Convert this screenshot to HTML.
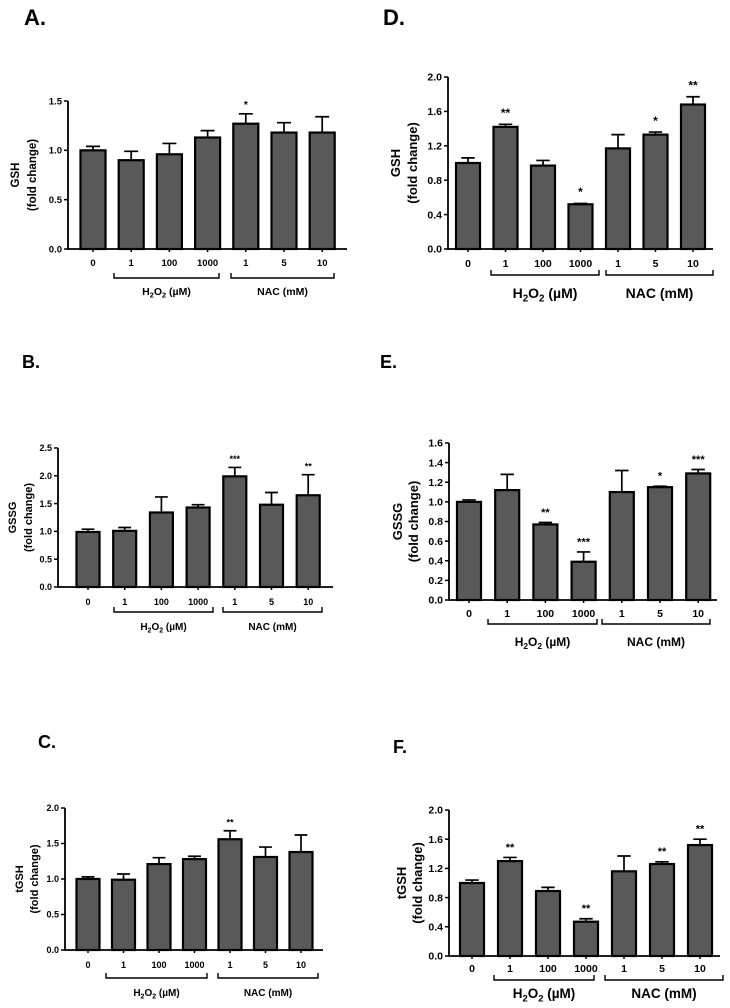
<!DOCTYPE html>
<html><head><meta charset="utf-8"><style>
body{margin:0;background:#fff}
svg{display:block}
text{font-family:"Liberation Sans",sans-serif;font-weight:bold;fill:#000}
</style></head><body>
<svg id="fig" width="730" height="1008" viewBox="0 0 730 1008" xmlns="http://www.w3.org/2000/svg"></svg>
<script>
const categories = ["0","1","100","1000","1","5","10"];
const gshA = [1.0,0.90,0.96,1.13,1.27,1.18,1.18];
const gshAErr = [0.04,0.09,0.11,0.07,0.10,0.10,0.16];
const gshAStars = ["","","","","*","",""];
const gsshB = [0.99,1.01,1.34,1.43,1.99,1.48,1.65];
const gsshBErr = [0.05,0.06,0.28,0.05,0.16,0.22,0.37];
const gsshBStars = ["","","","","***","","**"];
const tgshC = [1.0,0.99,1.21,1.28,1.56,1.31,1.38];
const tgshCErr = [0.03,0.08,0.09,0.04,0.12,0.14,0.24];
const tgshCStars = ["","","","","**","",""];
const gshD = [1.0,1.42,0.97,0.52,1.17,1.33,1.68];
const gshDErr = [0.06,0.03,0.06,0.01,0.16,0.03,0.09];
const gshDStars = ["","**","","*","","*","**"];
const gsshE = [1.0,1.12,0.77,0.39,1.10,1.15,1.29];
const gsshEErr = [0.02,0.16,0.02,0.10,0.22,0.01,0.04];
const gsshEStars = ["","","**","***","","*","***"];
const tgshF = [1.0,1.30,0.89,0.47,1.16,1.26,1.52];
const tgshFErr = [0.04,0.05,0.05,0.04,0.21,0.03,0.08];
const tgshFStars = ["","**","","**","","**","**"];
const ticksA = ["0.0","0.5","1.0","1.5"];
const ticksB = ["0.0","0.5","1.0","1.5","2.0","2.5"];
const ticksC = ["0.0","0.5","1.0","1.5","2.0"];
const ticksD = ["0.0","0.4","0.8","1.2","1.6","2.0"];
const ticksE = ["0.0","0.2","0.4","0.6","0.8","1.0","1.2","1.4","1.6"];
const ticksF = ["0.0","0.4","0.8","1.2","1.6","2.0"];

const NS="http://www.w3.org/2000/svg";
const svg=document.getElementById('fig');
function mk(tag,attrs,parent){const e=document.createElementNS(NS,tag);for(const k in attrs)e.setAttribute(k,attrs[k]);(parent||svg).appendChild(e);return e;}

function panel(p){
  const g=mk('g',{});
  
  
  const lab=mk('text',{x:p.lx,y:p.ly,'font-size':p.lfs},g);lab.textContent=p.id+'.';
  
  
  const ymax=parseFloat(p.ticks[p.ticks.length-1]);
  const y=v=>p.y0-(v/ymax)*(p.y0-p.yTop);
  const x=i=>p.c0+i*p.step;
  p.vals.forEach((v,i)=>{
    const r=mk('rect',{x:x(i)-p.bw/2,y:y(v),width:p.bw,height:p.y0-y(v),fill:'#595959',stroke:'#000','stroke-width':2.2},g);
    
    
    const e=p.err[i];
    const el=mk('path',{d:`M${x(i)} ${y(v)} V${y(v+e)} M${x(i)-p.bw*0.28} ${y(v+e)} H${x(i)+p.bw*0.28}`,stroke:'#000','stroke-width':1.7,fill:'none'},g);
    
    
    if(p.stars[i]){
      const s=mk('text',{x:x(i),y:y(v+e)-p.sfs*0.6,'font-size':p.sfs,'text-anchor':'middle'},g);s.textContent=p.stars[i];
      
      
    }
  });
  const ax=mk('path',{d:`M${p.ax} ${p.yTop} V${p.y0} H${p.axEnd}`,stroke:'#000','stroke-width':1.8,fill:'none'},g);
  
  
  p.ticks.forEach(t=>{
    const yy=y(parseFloat(t));
    mk('line',{x1:p.ax-4,x2:p.ax,y1:yy,y2:yy,stroke:'#000','stroke-width':1.5},g);
    const tt=mk('text',{x:p.ax-6,y:yy+p.tfs*0.35,'font-size':p.tfs,'text-anchor':'end'},g);tt.textContent=t;
    
    
  });
  categories.forEach((c,i)=>{
    mk('line',{x1:x(i),x2:x(i),y1:p.y0,y2:p.y0+3,stroke:'#000','stroke-width':1.5},g);
    const t=mk('text',{x:x(i),y:p.tky,'font-size':p.tfs,'text-anchor':'middle'},g);t.textContent=c;
    
    
  });
  [[p.b1a,p.b1b],[p.b2a,p.b2b]].forEach(([a,b],k)=>{
    const br=mk('path',{d:`M${a} ${p.by-5} V${p.by} H${b} V${p.by-5}`,stroke:'#000','stroke-width':1.4,fill:'none'},g);
    
    
  });
  const h=mk('text',{x:(p.b1a+p.b1b)/2,y:p.gy,'font-size':p.gfs,'text-anchor':'middle'},g);
  h.innerHTML=`H<tspan font-size="${p.gfs*0.7}" dy="${p.gfs*0.25}">2</tspan><tspan dy="${-p.gfs*0.25}">O</tspan><tspan font-size="${p.gfs*0.7}" dy="${p.gfs*0.25}">2</tspan><tspan dy="${-p.gfs*0.25}"> (µM)</tspan>`;
  
  
  const n=mk('text',{x:(p.b2a+p.b2b)/2,y:p.gy,'font-size':p.gfs,'text-anchor':'middle'},g);n.textContent='NAC (mM)';
  
  
  const cy=(p.yTop+p.y0)/2;
  const t1=mk('text',{x:0,y:0,'font-size':p.yfs,'text-anchor':'middle',transform:`translate(${p.yx1},${cy}) rotate(-90)`},g);t1.textContent=p.ytitle;
  
  
  const t2=mk('text',{x:0,y:0,'font-size':p.yfs,'text-anchor':'middle',transform:`translate(${p.yx2},${cy}) rotate(-90)`},g);t2.textContent='(fold change)';
  
  
}

panel({id:'A',lx:24,ly:25,lfs:22,vals:gshA,err:gshAErr,stars:gshAStars,ticks:ticksA,ax:68,yTop:101,y0:249,axEnd:347,c0:93,step:38.2,bw:25,tfs:9.5,sfs:10,tky:266,by:278,b1a:114,b1b:219,b2a:231,b2b:334,gy:295,gfs:10.5,ytitle:'GSH',yx1:19,yx2:36,yfs:11.5});
panel({id:'B',lx:22,ly:368,lfs:18,vals:gsshB,err:gsshBErr,stars:gsshBStars,ticks:ticksB,ax:58,yTop:448,y0:587,axEnd:333,c0:88,step:36.7,bw:23,tfs:9,sfs:9,tky:605,by:612,b1a:114,b1b:213,b2a:223,b2b:322,gy:630,gfs:10,ytitle:'GSSG',yx1:16,yx2:32,yfs:11});
panel({id:'C',lx:38,ly:748,lfs:18,vals:tgshC,err:tgshCErr,stars:tgshCStars,ticks:ticksC,ax:65,yTop:808,y0:950,axEnd:323,c0:88,step:35.5,bw:23,tfs:9,sfs:9,tky:968,by:978,b1a:106,b1b:207,b2a:218,b2b:318,gy:996,gfs:10,ytitle:'tGSH',yx1:23,yx2:38,yfs:11});
panel({id:'D',lx:383,ly:25,lfs:22,vals:gshD,err:gshDErr,stars:gshDStars,ticks:ticksD,ax:448,yTop:77,y0:249,axEnd:713,c0:468,step:37.5,bw:24,tfs:10.5,sfs:12,tky:267,by:275,b1a:491,b1b:599,b2a:606,b2b:713,gy:298,gfs:14,ytitle:'GSH',yx1:400,yx2:417,yfs:13});
panel({id:'E',lx:380,ly:368,lfs:18,vals:gsshE,err:gsshEErr,stars:gsshEStars,ticks:ticksE,ax:449,yTop:443,y0:600,axEnd:717,c0:469,step:38.2,bw:24,tfs:10.5,sfs:11,tky:617,by:624,b1a:488,b1b:597,b2a:602,b2b:710,gy:646,gfs:12,ytitle:'GSSG',yx1:402,yx2:418,yfs:13});
panel({id:'F',lx:393,ly:753,lfs:18,vals:tgshF,err:tgshFErr,stars:tgshFStars,ticks:ticksF,ax:449,yTop:810,y0:956,axEnd:720,c0:472,step:38,bw:24,tfs:10.5,sfs:11,tky:972,by:980,b1a:494,b1b:594,b2a:605,b2b:723,gy:998,gfs:13.5,ytitle:'tGSH',yx1:406,yx2:422,yfs:13});
</script>
</body></html>
